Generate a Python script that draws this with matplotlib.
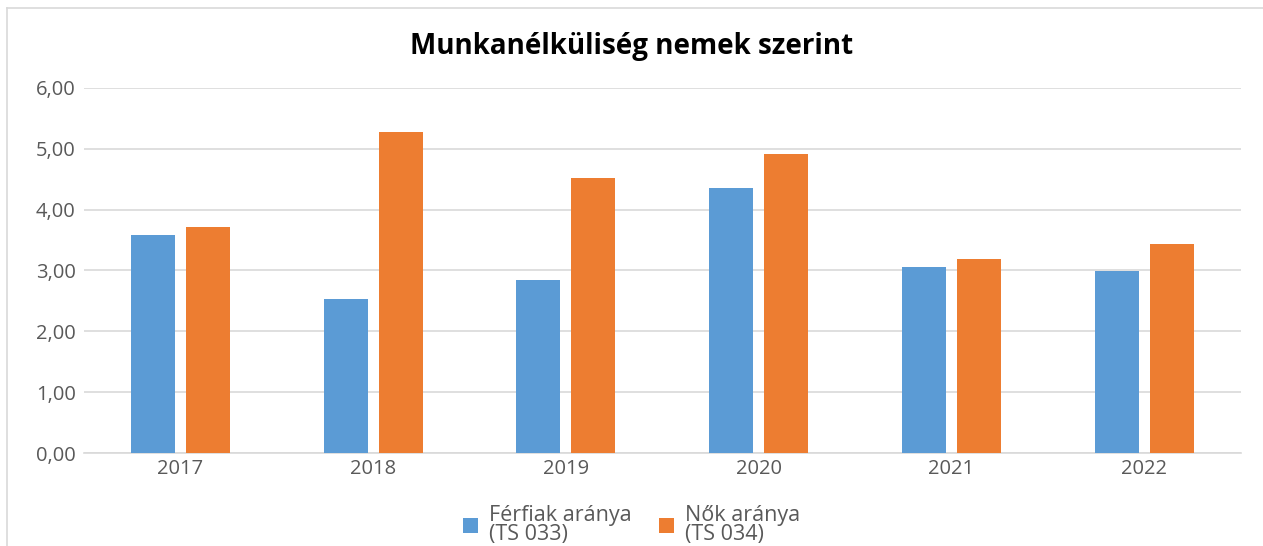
import matplotlib
matplotlib.use("Agg")
import matplotlib.pyplot as plt
import numpy as np
from matplotlib.lines import Line2D

years = ["2017", "2018", "2019", "2020", "2021", "2022"]
ferfiak = [3.59, 2.53, 2.85, 4.36, 3.06, 2.99]
nok = [3.72, 5.27, 4.52, 4.91, 3.19, 3.44]
series_labels = ["Férfiak aránya\n(TS 033)", "Nők aránya\n(TS 034)"]
title = "Munkanélküliség nemek szerint"
yticks = [0, 1, 2, 3, 4, 5, 6]

plt.rcParams['font.family'] = ['Open Sans', 'DejaVu Sans']

fig = plt.figure(figsize=(12.63, 5.46), dpi=100)
ax = fig.add_axes([0.0665, 0.1703, 0.9157, 0.6687])

x = np.arange(len(years))
w = 0.228
off = 0.1425
ax.bar(x - off, ferfiak, width=w, color="#5B9BD5", label=series_labels[0], zorder=3)
ax.bar(x + off, nok, width=w, color="#ED7D31", label=series_labels[1], zorder=3)

ax.set_xlim(-0.5, len(years) - 0.5)
ax.set_ylim(0, 6)
ax.set_yticks(yticks)
ax.set_yticklabels([f"{v:.2f}".replace(".", ",") for v in yticks])
ax.set_xticks(x)
ax.set_xticklabels(years)
ax.tick_params(axis="both", length=0, labelsize=14.5, colors="#595959")
ax.tick_params(axis="y", pad=6)
ax.tick_params(axis="x", pad=4)
ax.grid(axis="y", color="#D9D9D9", linewidth=1.2, zorder=0)
for s in ["top", "right", "left"]:
    ax.spines[s].set_visible(False)
ax.spines["bottom"].set_color("#D9D9D9")
ax.spines["bottom"].set_linewidth(1.2)

fig.text(0.5, 0.915, title, ha="center", va="center", fontsize=20, fontweight="bold", color="black")

leg = fig.legend(loc="center", bbox_to_anchor=(0.5, 0.038), ncol=2, frameon=False,
                 fontsize=15.5, handlelength=0.7, handleheight=0.7, handletextpad=0.5,
                 columnspacing=1.3, labelspacing=0.1, borderpad=0)
for t in leg.get_texts():
    t.set_color("#595959")
    t.set_linespacing(0.9)

fig.lines.append(Line2D([0.0055, 1.0], [0.985, 0.985], transform=fig.transFigure,
                        color="#D9D9D9", linewidth=1.2))
fig.lines.append(Line2D([0.0055, 0.0055], [0.0, 0.985], transform=fig.transFigure,
                        color="#D9D9D9", linewidth=1.2))

fig.savefig("out.png", dpi=100)
